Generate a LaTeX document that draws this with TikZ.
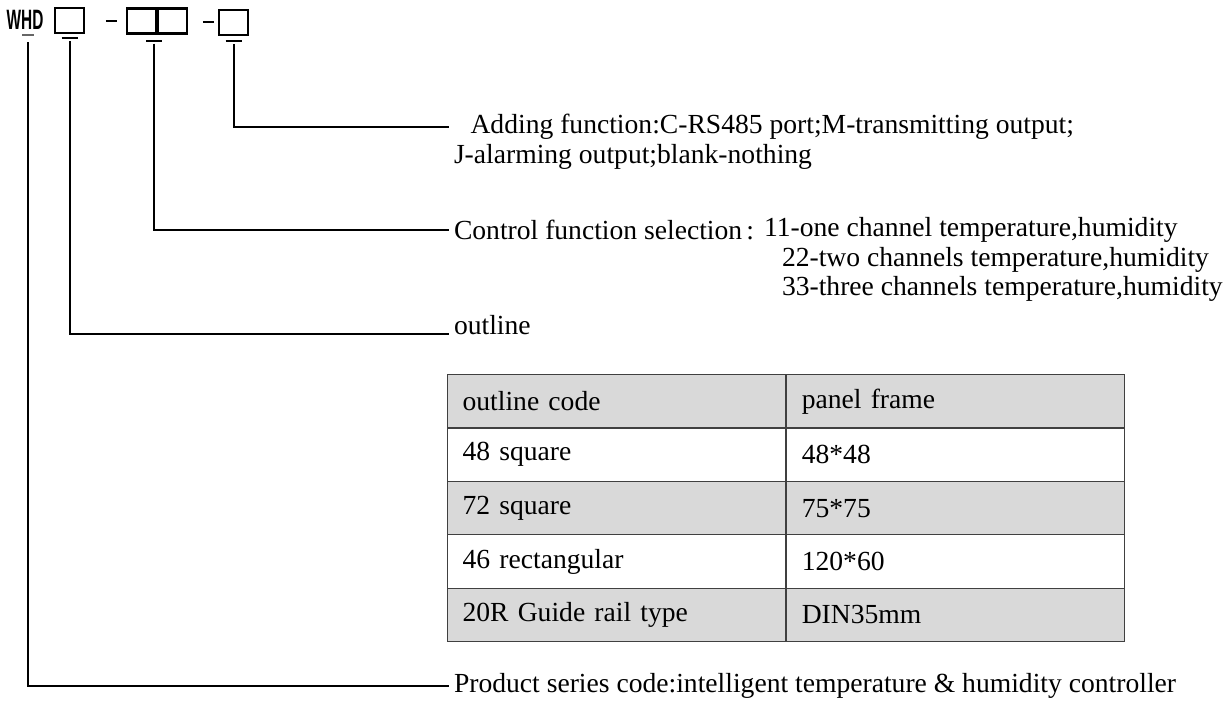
\documentclass[tikz,border=0pt]{standalone}
\usepackage{fontspec}
\setmainfont{Liberation Serif}
\newfontfamily\codefont{Liberation Sans}
\usepackage{xcolor}
\usepackage{tikz}
\usetikzlibrary{positioning, calc}
\definecolor{cellgray}{HTML}{D9D9D9}
\tikzset{
    codebox/.style={
        draw=black,
        line width=1.1pt,
        minimum width=14.5pt,
        minimum height=12.5pt,
        inner sep=0pt,
    },
    codetext/.style={
        font=\codefont\bfseries\fontsize{14}{16}\selectfont,
        xscale=0.55,
        inner sep=0pt,
    },
    desc/.style={
        font=\fontsize{13.8}{16}\selectfont,
        anchor=west,
        inner sep=2pt,
    },
    cell/.style={
        draw=black!75,
        line width=0.6pt,
        anchor=north west,
        text width=154pt,
        inner xsep=7.5pt,
        minimum height=26.75pt,
        align=left,
        font=\fontsize{13.8}{16}\selectfont,
    },
}

\begin{document}
\begin{tikzpicture}[x=0.5pt, y=-0.5pt, line width=1pt]
    \useasboundingbox (0,0) rectangle (1232,702);

    % model code
    \node[codetext] (whd) at (25,20) {WHD};
    \node[codebox] (boxA) at (69.5,20.5) {};
    \node[codebox] (boxB1) at (141.5,21) {};
    \node[codebox, right=0pt of boxB1] (boxB2) {};
    \node[codebox] (boxC) at (233.5,22.5) {};

    \draw ($(boxB1.west)+(-20,0)$) -- ($(boxB1.west)+(-9,0)$);
    \draw ($(boxC.west)+(-15,-1)$) -- ($(boxC.west)+(-4,-1)$);

    \coordinate (tickW) at (28,35);
    \coordinate (tickA) at ($(boxA.south)+(0,4)$);
    \coordinate (tickB) at ($(boxB1.south east)+(-3,6)$);
    \coordinate (tickC) at ($(boxC.south)+(0,5)$);

    \draw[black!60, line width=0.8pt] ($(tickW)+(-6,0)$) -- ($(tickW)+(6,0)$);
    \foreach \t in {tickA, tickB, tickC}
        \draw ($(\t)+(-8,0)$) -- ($(\t)+(8,0)$);

    % descriptions
    \node[desc] (addA) at (449,127) {\hspace{0.6em}Adding function:C-RS485 port;M-transmitting output;};
    \node[desc] (addB) at ($(addA.west)+(0,30)$) {J-alarming output;blank-nothing};

    \node[desc] (ctrl) at (449,230) {Control function selection\hspace{0.15em}:};
    \node[desc, right=0pt of ctrl] (ctrlA) {11-one channel temperature,humidity};
    \node[desc] (ctrlB) at ($(ctrlA.west)+(18,30)$) {22-two channels temperature,humidity};
    \node[desc] (ctrlC) at ($(ctrlB.west)+(0,29)$) {33-three channels temperature,humidity};

    \node[desc, anchor=base west] (outl) at (449,334) {outline};

    \node[desc] (prod) at (449,686) {Product series code:intelligent temperature \& humidity controller};

    % leaders
    \draw (tickC) ++(0,3) |- (addA.west);
    \draw (tickB) ++(0,3) |- (ctrl.west);
    \draw (tickA) ++(0,3) |- (outl.base west);
    \draw (tickW) ++(0,7) |- (prod.west);

    % outline table
    \foreach \code/\pf/\shade [count=\r] in {outline code/panel frame/cellgray,
            48 square/48*48/white, 72 square/75*75/cellgray,
            46 rectangular/120*60/white, 20R Guide rail type/DIN35mm/cellgray}{
        \node[cell, fill=\shade] (code\r) at (447,{374+53.4*(\r-1)}) {\code};
        \node[cell, fill=\shade, right=0pt of code\r] (frame\r) {\pf};
    }
\end{tikzpicture}
\end{document}
